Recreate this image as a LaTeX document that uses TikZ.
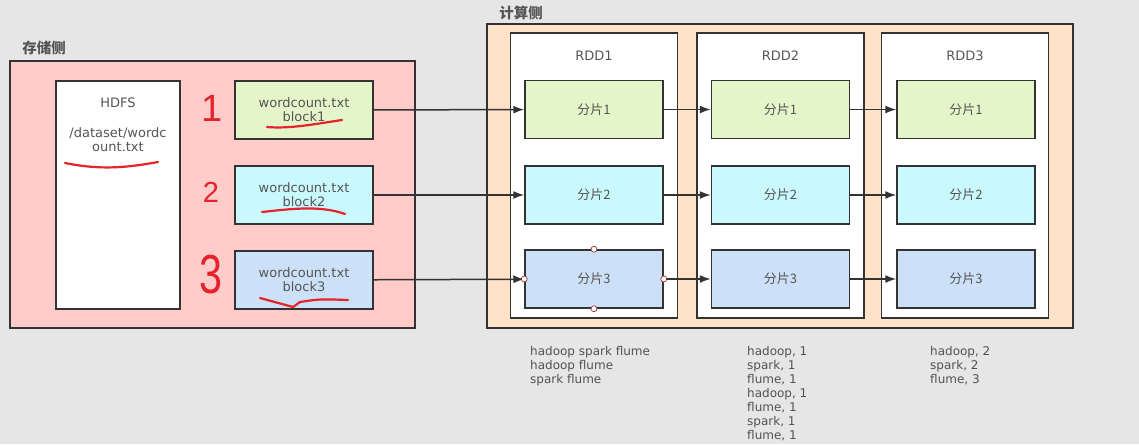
\documentclass[tikz,border=0pt]{standalone}
\usepackage{fontspec}
\setmainfont{DejaVu Sans}
\newfontfamily\cjk{Noto Sans CJK SC}
\newfontfamily\hand{Liberation Sans}
\usepackage{tikz}
\usetikzlibrary{arrows.meta,positioning}
\definecolor{bg}{HTML}{E6E6E6}
\definecolor{store}{HTML}{FFCCCA}
\definecolor{calc}{HTML}{FFE3C9}
\definecolor{shardA}{HTML}{E4F5C9}
\definecolor{shardB}{HTML}{C9F9FD}
\definecolor{shardC}{HTML}{CCE1F8}
\definecolor{ink}{HTML}{333333}
\definecolor{txt}{HTML}{555555}
\definecolor{redpen}{HTML}{E5232B}
\tikzset{
  zone/.style={rectangle, draw=ink, line width=1.5pt, inner sep=0pt},
  rdd/.style={zone, fill=white, minimum width=167pt, minimum height=285pt},
  blk/.style={zone, align=center, text=txt, minimum width=138pt, minimum height=58pt,
              font=\fontsize{13}{14}\selectfont},
  shard/.style={blk, font=\cjk\fontsize{13}{14}\selectfont},
  head/.style={font=\cjk\bfseries\fontsize{14.5}{16}\selectfont, text=txt, inner sep=0pt},
  lbl/.style={text=txt, inner sep=0pt, font=\fontsize{13}{14}\selectfont},
  note/.style={text=ink!85, inner sep=0pt, align=left, anchor=north west},
  fl/.style={-{Latex[length=11pt,width=8pt]}, draw=ink, line width=1.5pt},
  handle/.style={circle, draw=ink!50!red, fill=white, line width=0.6pt,
                 inner sep=0pt, minimum size=6pt},
  digit/.style={text=redpen, inner sep=0pt},
  scrawl/.style={draw=redpen, line width=2.2pt, line cap=round}
}

\begin{document}
\begin{tikzpicture}[x=1pt, y=-1pt, font=\fontsize{12}{14}\selectfont]
  \fill[bg] (0,0) rectangle (1139,444);
  \useasboundingbox (0,0) rectangle (1139,444);
  % storage side
  \node[zone, fill=store, minimum width=405pt, minimum height=267pt] (store) at (212.5,194.5) {};
  \node[head] (storelbl) at (44,48) {存储侧};
  \node[zone, fill=white, minimum width=124pt, minimum height=228pt] (hdfs) at (118,195) {};
  \node[lbl, align=center] (hdfstxt) at (118,125) {HDFS\\[16pt]/dataset/wordc\\ount.txt};
  \node[blk, fill=shardA] (b1) at (304,110) {wordcount.txt\\block1};
  \node[blk, fill=shardB] (b2) at (304,195) {wordcount.txt\\block2};
  \node[blk, fill=shardC] (b3) at (304,280) {wordcount.txt\\block3};
  % compute side
  \node[zone, fill=calc, minimum width=586pt, minimum height=304pt] (calc) at (780,176) {};
  \node[head] (calclbl) at (521,13) {计算侧};
  \node[rdd] (r1) at (594,175.5) {}; \node[lbl] (t1) at (594,56) {RDD1};
  \node[rdd] (r2) at (780.5,175.5) {}; \node[lbl] (t2) at (780.5,56) {RDD2};
  \node[rdd] (r3) at (965,175.5) {}; \node[lbl] (t3) at (965,56) {RDD3};
  \node[shard, fill=shardA] (p11) at (594,109.5) {分片1};
  \node[shard, fill=shardB] (p12) at (594,195) {分片2};
  \node[shard, fill=shardC] (p13) at (594,279) {分片3};
  \node[shard, fill=shardA] (p21) at (780.5,109.5) {分片1};
  \node[shard, fill=shardB] (p22) at (780.5,195) {分片2};
  \node[shard, fill=shardC] (p23) at (780.5,279) {分片3};
  \node[shard, fill=shardA] (p31) at (966,109.5) {分片1};
  \node[shard, fill=shardB] (p32) at (966,195) {分片2};
  \node[shard, fill=shardC] (p33) at (966,279) {分片3};
  % flows
  \draw[fl] (b1)--(p11); \draw[fl] (b2)--(p12); \draw[fl] (b3)--(p13);
  \draw[fl] (p11)--(p21); \draw[fl] (p12)--(p22); \draw[fl] (p13)--(p23);
  \draw[fl] (p21)--(p31); \draw[fl] (p22)--(p32); \draw[fl] (p23)--(p33);
  \node[handle] (hn) at (p13.north) {}; \node[handle] (hs) at (p13.south) {};
  \node[handle] (hw) at (p13.west) {}; \node[handle] (he) at (p13.east) {};
  % word counts
  \node[note] (n1) at (530,346) {hadoop spark flume\\hadoop flume\\spark flume};
  \node[note] (n2) at (747,346) {hadoop, 1\\spark, 1\\flume, 1\\hadoop, 1\\flume, 1\\spark, 1\\flume, 1};
  \node[note] (n3) at (930,346) {hadoop, 2\\spark, 2\\flume, 3};
  % red pen marks
  \node[digit, font=\hand\fontsize{38}{40}\selectfont] (d1) at (212,108.5) {1};
  \node[digit, font=\hand\fontsize{29}{30}\selectfont] (d2) at (211,192.5) {2};
  \node[digit, font=\hand\fontsize{55}{56}\selectfont] (d3) at (211,275) {\scalebox{0.75}[1]{3}};
  \draw[scrawl] (65,163) .. controls (100,170) and (125,168) .. (158,162);
  \draw[scrawl] (267,127) .. controls (290,129) and (315,124) .. (342,120);
  \draw[scrawl] (262,212) .. controls (290,209) and (320,205) .. (345,214);
  \draw[scrawl] (260,298) -- (293,307) -- (300,302) .. controls (320,299) .. (348,300);
\end{tikzpicture}
\end{document}
